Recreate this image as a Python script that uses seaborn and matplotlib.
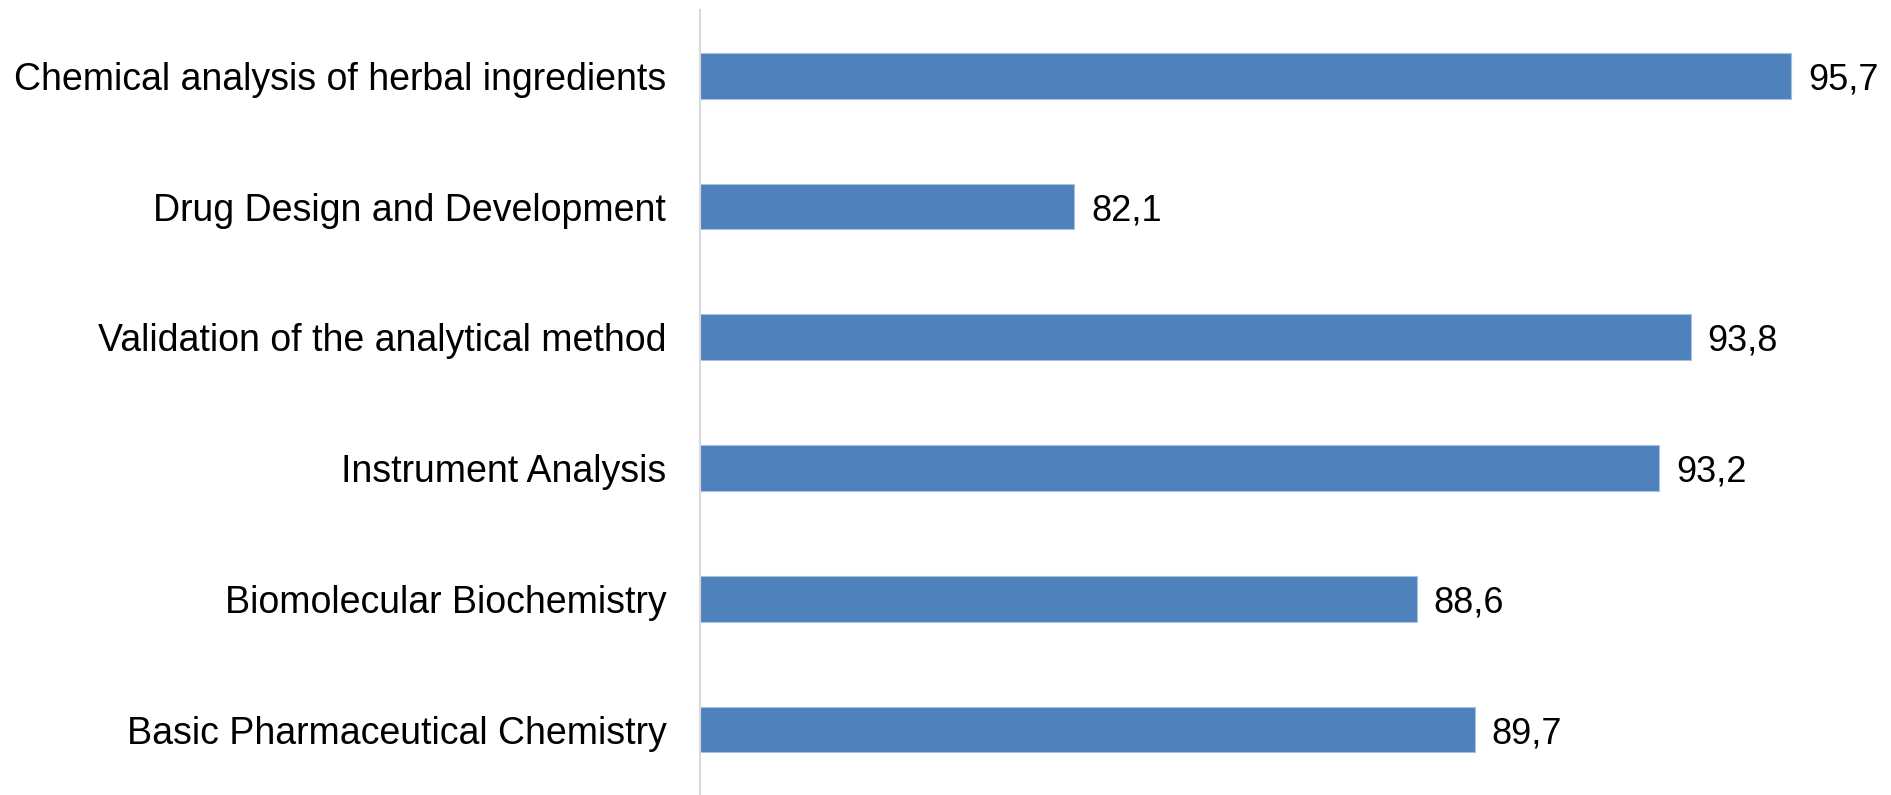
import pandas as pd
import matplotlib
matplotlib.use("Agg")
import matplotlib.pyplot as plt
import seaborn as sns

# values (top to bottom)
courses = [
    "Chemical analysis of herbal ingredients",
    "Drug Design and Development",
    "Validation of the analytical method",
    "Instrument Analysis",
    "Biomolecular Biochemistry",
    "Basic Pharmaceutical Chemistry",
]
scores = [95.7, 82.1, 93.8, 93.2, 88.6, 89.7]

df = pd.DataFrame({"course": courses, "score": scores})

sns.set_theme(style="white")
plt.rcParams['font.family'] = ['Liberation Sans', 'DejaVu Sans']

bar_color = "#4F81BD"
x_min = 75

fig = plt.figure(figsize=(18.91, 7.95), dpi=100)
ax = fig.add_axes([0.370, 0.0, 0.630, 0.987])

sns.barplot(data=df, x="score", y="course", color=bar_color, width=0.35,
            saturation=1, edgecolor="#a9c1e0", linewidth=0.8, ax=ax, orient="h")

# bars start at the axis minimum, not at zero
for patch, val in zip(ax.patches, scores):
    patch.set_x(x_min)
    patch.set_width(val - x_min)

for i, val in enumerate(scores):
    ax.annotate(f"{val:.1f}".replace(".", ","), xy=(val, i), xytext=(17, 0),
                textcoords="offset pixels", va="center_baseline", ha="left",
                fontsize=26, color="black")

ax.set_xlim(x_min, 97.6)
ax.set_ylim(5.5, -0.5)
ax.set_xlabel("")
ax.set_ylabel("")
ax.set_xticks([])
ax.tick_params(axis="y", length=0, pad=24, labelsize=27, labelcolor="black")

for side in ["top", "right", "bottom"]:
    ax.spines[side].set_visible(False)
ax.spines["left"].set_color("#d9d9d9")
ax.spines["left"].set_linewidth(1.5)

fig.savefig("out.png", dpi=100, facecolor="white")
